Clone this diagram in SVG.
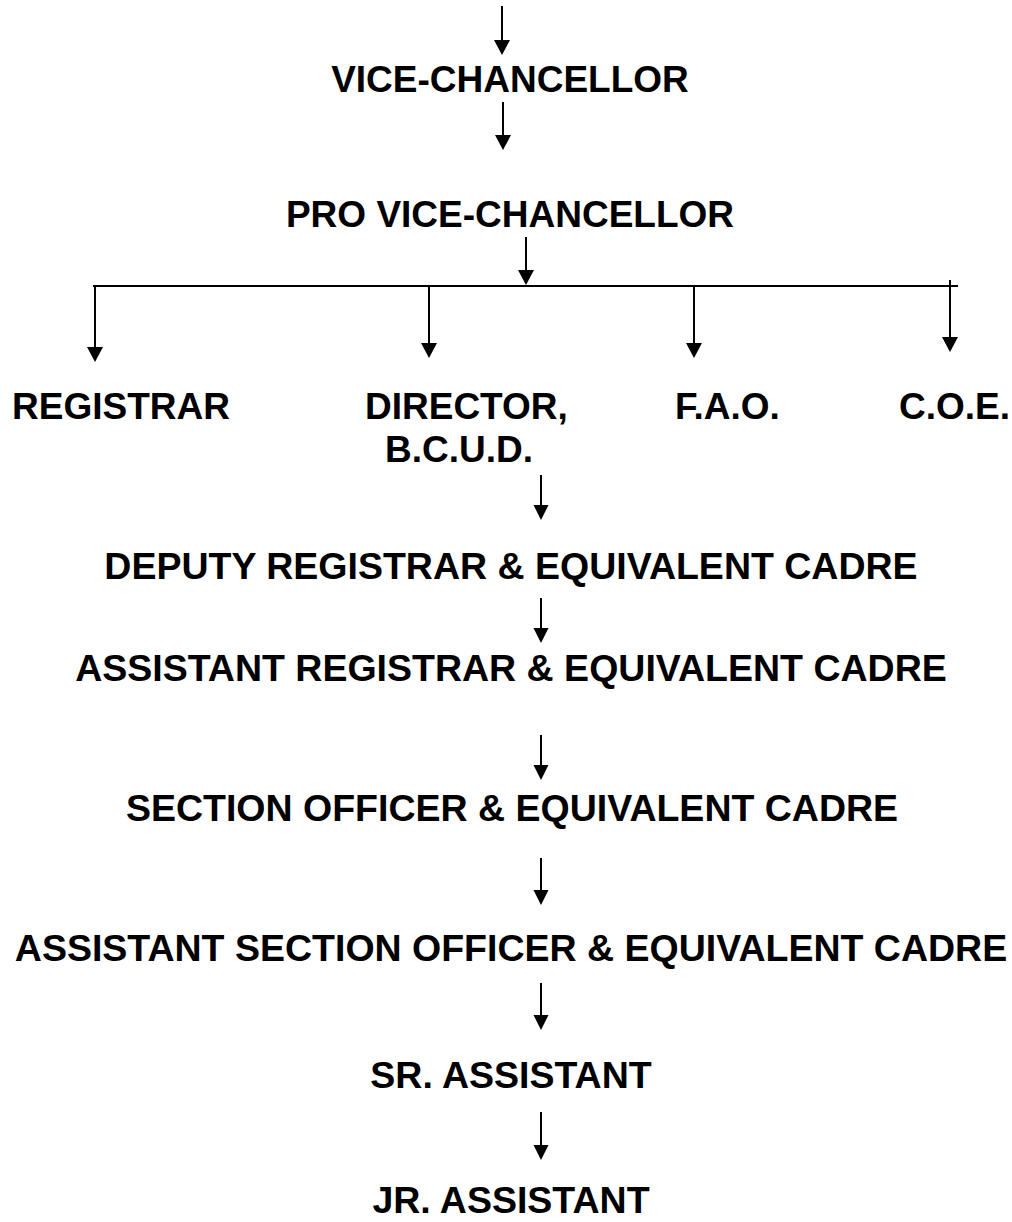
<svg xmlns="http://www.w3.org/2000/svg" width="1012" height="1222" viewBox="0 0 1012 1222">
<defs>
<style>
.t{font-family:"Liberation Sans",Arial,sans-serif;font-weight:bold;font-size:37px;fill:#000}
.b{font-size:37.5px}
.c{text-anchor:middle}
.l{stroke:#000;stroke-width:2;fill:none}
.h{fill:#000}
</style>
</defs>
<rect width="1012" height="1222" fill="#fff"/>
<g id="connectors">
<line class="l" x1="502" y1="6" x2="502" y2="42"/><polygon class="h" points="494,40 510,40 502,55"/>
<line class="l" x1="503" y1="102" x2="503" y2="137"/><polygon class="h" points="495,135 511,135 503,150"/>
<line class="l" x1="526" y1="237" x2="526" y2="272"/><polygon class="h" points="518,270 534,270 526,285"/>
<line class="l" x1="93" y1="286" x2="958" y2="286"/>
<line class="l" x1="95" y1="287" x2="95" y2="349"/><polygon class="h" points="87,347 103,347 95,362"/>
<line class="l" x1="429" y1="287" x2="429" y2="345"/><polygon class="h" points="421,343 437,343 429,358"/>
<line class="l" x1="694" y1="287" x2="694" y2="345"/><polygon class="h" points="686,343 702,343 694,358"/>
<line class="l" x1="950" y1="280" x2="950" y2="339"/><polygon class="h" points="942,337 958,337 950,352"/>
<line class="l" x1="541" y1="475" x2="541" y2="507"/><polygon class="h" points="533.5,505 548.5,505 541,520"/>
<line class="l" x1="541" y1="598" x2="541" y2="630"/><polygon class="h" points="533.5,628 548.5,628 541,643"/>
<line class="l" x1="541" y1="735" x2="541" y2="767"/><polygon class="h" points="533.5,765 548.5,765 541,780"/>
<line class="l" x1="541" y1="858" x2="541" y2="892"/><polygon class="h" points="533.5,890 548.5,890 541,905"/>
<line class="l" x1="541" y1="983" x2="541" y2="1017"/><polygon class="h" points="533.5,1015 548.5,1015 541,1030"/>
<line class="l" x1="541" y1="1112" x2="541" y2="1147"/><polygon class="h" points="533.5,1145 548.5,1145 541,1160"/>
</g>
<g id="vc"><text class="t c" x="510" y="92">VICE-CHANCELLOR</text></g>
<g id="pvc"><text class="t c" x="510" y="227">PRO VICE-CHANCELLOR</text></g>
<g id="registrar"><text class="t" x="12" y="419">REGISTRAR</text></g>
<g id="director"><text class="t" x="365" y="419">DIRECTOR,</text><text class="t" x="385" y="462">B.C.U.D.</text></g>
<g id="fao"><text class="t" x="675" y="419">F.A.O.</text></g>
<g id="coe"><text class="t" x="899" y="419">C.O.E.</text></g>
<g id="dr"><text class="t b c" x="511" y="579">DEPUTY REGISTRAR &amp; EQUIVALENT CADRE</text></g>
<g id="ar"><text class="t b c" x="511" y="681">ASSISTANT REGISTRAR &amp; EQUIVALENT CADRE</text></g>
<g id="so"><text class="t b c" x="512" y="821">SECTION OFFICER &amp; EQUIVALENT CADRE</text></g>
<g id="aso"><text class="t b c" x="511" y="961">ASSISTANT SECTION OFFICER &amp; EQUIVALENT CADRE</text></g>
<g id="sr"><text class="t b c" x="511" y="1088">SR. ASSISTANT</text></g>
<g id="jr"><text class="t b c" x="511" y="1213">JR. ASSISTANT</text></g>
</svg>
